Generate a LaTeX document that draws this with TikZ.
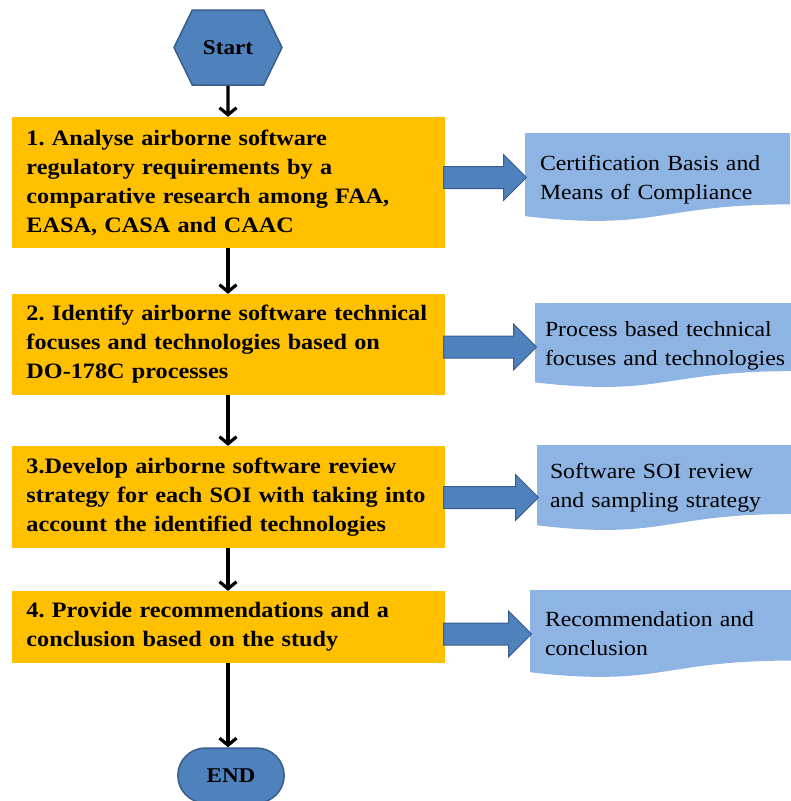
\documentclass[tikz,border=0pt]{standalone}
\usepackage{fontspec}
\setmainfont[FakeStretch=1.1]{Liberation Serif}
\usetikzlibrary{shapes.symbols,shapes.misc,shapes.arrows,arrows.meta,calc}

\definecolor{stepyellow}{HTML}{FFC000}
\definecolor{termblue}{HTML}{4F81BD}
\definecolor{termedge}{HTML}{385D8A}
\definecolor{docblue}{HTML}{8EB4E3}

\tikzset{
  stepbox/.style={rectangle, fill=stepyellow, minimum width=433pt,
    text width=403pt, inner xsep=15pt, inner ysep=0pt, align=left,
    font=\frenchspacing\bfseries\fontsize{22}{29}\selectfont},
  docbox/.style={rectangle, inner sep=0pt, align=left,
    font=\fontsize{21.6}{29}\selectfont,
    path picture={
      \fill[docblue] let \p1=(path picture bounding box.north west),
                         \p2=(path picture bounding box.south east) in
        (\x1,\y1) -- (\x2,\y1) -- (\x2,{\y1+0.802*((\y2)-(\y1))})
        .. controls ({0.5*(\x1+\x2)},{\y1+0.802*((\y2)-(\y1))})
               and ({0.5*(\x1+\x2)},{\y1+1.107*((\y2)-(\y1))})
        .. (\x1,{\y1+0.934*((\y2)-(\y1))}) -- cycle;
    }},
  blockarrow/.style={single arrow, fill=termblue, draw=termedge, line width=1pt,
    inner xsep=0pt, inner ysep=10.5pt, single arrow head extend=12pt,
    single arrow head indent=0pt, anchor=west},
  flow/.style={line width=3.2pt, -{Straight Barb[length=7pt,width=17pt]}}
}

\begin{document}
\begin{tikzpicture}[x=1pt,y=1pt]
\useasboundingbox (0,0) rectangle (791,-801);

% start node
\node[signal, signal to=west and east, signal pointer angle=128,
      fill=termblue, draw=termedge, line width=1.5pt,
      minimum width=108pt, minimum height=75pt, inner sep=0pt,
      font=\bfseries\fontsize{21}{25}\selectfont] (start) at (228,-47.5) {Start};

% step nodes
\node[stepbox, minimum height=131pt] (analyse) at (228,-182.5)
  {1. Analyse airborne software\\ regulatory requirements by a\\
   comparative research among FAA,\\ EASA, CASA and CAAC};
\node[stepbox, minimum height=101pt] (identify) at (228,-344.5)
  {2. Identify airborne software technical\\ focuses and technologies based on\\
   DO-178C processes};
\node[stepbox, minimum height=102pt] (develop) at (228,-497)
  {3.Develop airborne software review\\ strategy for each SOI with taking into\\
   account the identified technologies};
\node[stepbox, minimum height=72pt] (provide) at (228,-627)
  {4. Provide recommendations and a\\ conclusion based on the study};

% end node
\node[rounded rectangle, fill=termblue, draw=termedge, line width=1.5pt,
      minimum width=113pt, minimum height=55pt,
      font=\bfseries\fontsize{21}{25}\selectfont] (end) at (231,-775.5) {END};

% result nodes
\node[docbox, minimum width=265pt, minimum height=89pt, text width=235pt,
      text height=19pt] (basis) at (657.5,-177.5)
  {Certification Basis and\\ Means of Compliance};
\node[docbox, minimum width=256pt, minimum height=85pt, text width=236pt]
  (focuses) at (663,-345.5)
  {Process based technical\\ \mbox{focuses and technologies}};
\node[docbox, minimum width=254pt, minimum height=86pt, text width=228pt]
  (strategy) at (664,-488)
  {Software SOI review\\ and sampling strategy};
\node[docbox, minimum width=261pt, minimum height=88pt, text width=231pt]
  (conclusion) at (660.5,-634)
  {Recommendation and\\ conclusion};

% block arrows to results
\node[blockarrow, minimum height=83pt] (toBasis) at (443,-177.5) {};
\node[blockarrow, minimum height=93pt] (toFocuses) at (443,-347) {};
\node[blockarrow, minimum height=95pt] (toStrategy) at (443,-497.5) {};
\node[blockarrow, minimum height=88pt] (toConclusion) at (443,-634) {};

% flow arrows
\draw[flow] (start) -- (analyse);
\draw[flow] (analyse) -- (identify);
\draw[flow] (identify) -- (develop);
\draw[flow] (develop) -- (provide);
\draw[flow] (provide.south) -- (provide.south |- end.north);

\end{tikzpicture}
\end{document}
